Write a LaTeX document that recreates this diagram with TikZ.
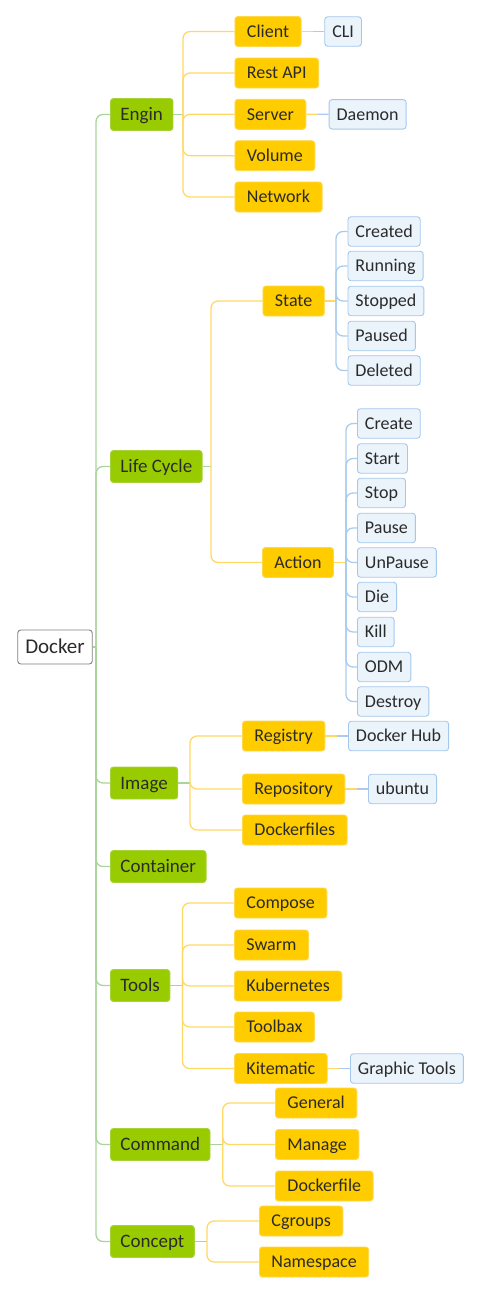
\documentclass[tikz,border=0pt]{standalone}
\usepackage{fontspec}
\setmainfont{Carlito}
\usetikzlibrary{calc}

\definecolor{rootline}{HTML}{7F7F7F}
\definecolor{topicfill}{HTML}{99CC00}
\definecolor{topicline}{HTML}{A6D33A}
\definecolor{subfill}{HTML}{FFCC00}
\definecolor{subline}{HTML}{FFD84A}
\definecolor{leaffill}{HTML}{EBF3FB}
\definecolor{leafline}{HTML}{A4C8EC}
\definecolor{glinkc}{HTML}{A9D49A}
\definecolor{ylinkc}{HTML}{FFD966}
\definecolor{blinkc}{HTML}{A9CCEE}
\definecolor{ink}{HTML}{2B2B2B}

\tikzset{
  box/.style={anchor=west, rounded corners=3, line width=0.9pt, text=ink, inner ysep=0pt},
  root/.style={box, draw=rootline, fill=white, font=\fontsize{21}{24}\selectfont,
    inner xsep=7.5pt, minimum height=34pt, text height=15pt, text depth=1.4pt},
  topic/.style={box, draw=topicline, fill=topicfill, font=\fontsize{19}{22}\selectfont,
    inner xsep=10pt, minimum height=32pt, text height=13.7pt, text depth=1.5pt},
  sub/.style={box, draw=subline, fill=subfill, font=\fontsize{18}{21}\selectfont,
    inner xsep=12pt, minimum height=30pt, text height=13pt, text depth=1.4pt},
  leaf/.style={box, draw=leafline, fill=leaffill, font=\fontsize{18}{21}\selectfont,
    inner xsep=7.5pt, minimum height=29.5pt, text height=13pt, text depth=1.4pt},
  glink/.style={draw=glinkc, line width=1.3pt, rounded corners=7pt},
  ylink/.style={draw=ylinkc, line width=1.3pt, rounded corners=7pt},
  blink/.style={draw=blinkc, line width=1.3pt, rounded corners=7pt},
}

\begin{document}
\begin{tikzpicture}[x=1pt,y=-1pt]
  \useasboundingbox (0,0) rectangle (479,1294);

  % root and main topics
  \node[root] (docker) at (17.3,647) {Docker};
  \node[topic] (engin) at (110,114.5) {Engin};
  \node[topic] (lifecycle) at (110,466.5) {Life Cycle};
  \node[topic] (image) at (110,783) {Image};
  \node[topic] (container) at (110,866.5) {Container};
  \node[topic] (tools) at (110,985.5) {Tools};
  \node[topic] (command) at (110,1144.5) {Command};
  \node[topic] (concept) at (110,1241.5) {Concept};

  % Engin
  \node[sub] (client) at (234.5,31.5) {Client};
  \node[sub] (restapi) at (234.5,73) {Rest API};
  \node[sub] (server) at (234.5,114.3) {Server};
  \node[sub] (volume) at (234.5,155.7) {Volume};
  \node[sub] (network) at (234.5,197) {Network};
  \node[leaf] (cli) at (324.3,31.5) {CLI};
  \node[leaf] (daemon) at (328.7,114.3) {Daemon};

  % Life Cycle
  \node[sub] (state) at (262.5,301) {State};
  \node[sub] (action) at (262,562.5) {Action};
  \node[leaf] (created) at (347.5,231.5) {Created};
  \node[leaf] (running) at (347.5,266) {Running};
  \node[leaf] (stopped) at (347.5,301) {Stopped};
  \node[leaf] (paused) at (347.5,336) {Paused};
  \node[leaf] (deleted) at (347.5,370.5) {Deleted};
  \node[leaf] (create) at (357,423.5) {Create};
  \node[leaf] (start) at (357,458.5) {Start};
  \node[leaf] (stop) at (357,493) {Stop};
  \node[leaf] (pause) at (357,528) {Pause};
  \node[leaf] (unpause) at (357,562.5) {UnPause};
  \node[leaf] (die) at (357,597) {Die};
  \node[leaf] (kill) at (357,632) {Kill};
  \node[leaf] (odm) at (357,667) {ODM};
  \node[leaf] (destroy) at (357,701.5) {Destroy};

  % Image
  \node[sub] (registry) at (242,736) {Registry};
  \node[sub] (repository) at (242,789) {Repository};
  \node[sub] (dockerfiles) at (242,830) {Dockerfiles};
  \node[leaf] (dockerhub) at (348,736) {Docker Hub};
  \node[leaf] (ubuntu) at (368,789) {ubuntu};

  % Tools
  \node[sub] (compose) at (234,903) {Compose};
  \node[sub] (swarm) at (234,945) {Swarm};
  \node[sub] (kubernetes) at (234,986) {Kubernetes};
  \node[sub] (toolbax) at (234,1027) {Toolbax};
  \node[sub] (kitematic) at (234,1068.5) {Kitematic};
  \node[leaf] (graphic) at (350,1068.5) {Graphic Tools};

  % Command
  \node[sub] (general) at (275,1103) {General};
  \node[sub] (manage) at (275,1144.5) {Manage};
  \node[sub] (dockerfile) at (275,1186) {Dockerfile};

  % Concept
  \node[sub] (cgroups) at (259,1221) {Cgroups};
  \node[sub] (namespace) at (259,1262) {Namespace};

  % branch points
  \coordinate (docker-j) at (96,647);
  \coordinate (engin-j) at (183,114.5);
  \coordinate (lifecycle-j) at (211,466.5);
  \coordinate (state-j) at (336,301);
  \coordinate (action-j) at (346,562.5);
  \coordinate (image-j) at (190,783);
  \coordinate (tools-j) at (182.5,985.5);
  \coordinate (command-j) at (222.7,1144.5);
  \coordinate (concept-j) at (207,1241.5);

  \begin{scope}[glink]
    \draw (docker.east) to (docker-j);
    \foreach \t in {engin,lifecycle,image,container,tools,command,concept}
      \draw (docker-j) |- (\t.west);
    \foreach \t in {engin,lifecycle,image,tools,command,concept}
      \draw (\t.east) to (\t-j);
  \end{scope}

  \begin{scope}[ylink]
    \foreach \s in {client,restapi,server,volume,network}
      \draw (engin-j) |- (\s.west);
    \foreach \s in {state,action}
      \draw (lifecycle-j) |- (\s.west);
    \foreach \s in {registry,repository,dockerfiles}
      \draw (image-j) |- (\s.west);
    \foreach \s in {compose,swarm,kubernetes,toolbax,kitematic}
      \draw (tools-j) |- (\s.west);
    \foreach \s in {general,manage,dockerfile}
      \draw (command-j) |- (\s.west);
    \foreach \s in {cgroups,namespace}
      \draw (concept-j) |- (\s.west);
    \draw (state.east) to (state-j);
    \draw (action.east) to (action-j);
    % single leaves: half yellow, half blue
    \foreach \a/\b in {client/cli,server/daemon,registry/dockerhub,repository/ubuntu,kitematic/graphic}
      \draw (\a.east) to ($(\a.east)!.5!(\b.west)$);
  \end{scope}

  \begin{scope}[blink]
    \foreach \l in {created,running,stopped,paused,deleted}
      \draw (state-j) |- (\l.west);
    \foreach \l in {create,start,stop,pause,unpause,die,kill,odm,destroy}
      \draw (action-j) |- (\l.west);
    \foreach \a/\b in {client/cli,server/daemon,registry/dockerhub,repository/ubuntu,kitematic/graphic}
      \draw ($(\a.east)!.5!(\b.west)$) to (\b.west);
  \end{scope}
\end{tikzpicture}
\end{document}
